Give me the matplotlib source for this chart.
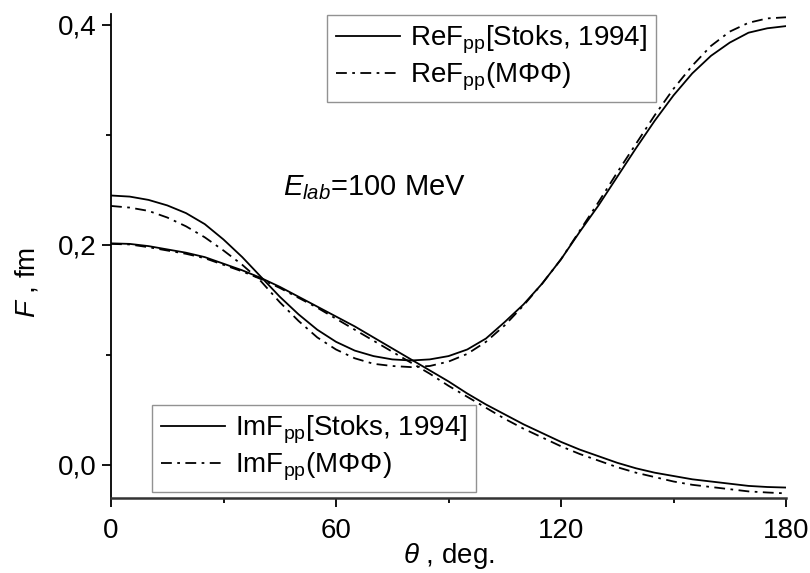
import matplotlib
matplotlib.use("Agg")
import matplotlib.pyplot as plt
from matplotlib.ticker import FixedLocator, FuncFormatter

plt.rcParams['font.family'] = ['Liberation Sans', 'DejaVu Sans']
plt.rcParams['mathtext.fontset'] = 'custom'
plt.rcParams['mathtext.rm'] = 'Liberation Sans'
plt.rcParams['mathtext.it'] = 'Liberation Sans:italic'
plt.rcParams['mathtext.bf'] = 'Liberation Sans:bold'

theta = [0, 5, 10, 15, 20, 25, 30, 35, 40, 45, 50, 55, 60, 65, 70, 75, 80, 85, 90,
         95, 100, 105, 110, 115, 120, 125, 130, 135, 140, 145, 150, 155, 160, 165,
         170, 175, 180]

re_stoks = [0.245, 0.244, 0.241, 0.236, 0.229, 0.219, 0.205, 0.189, 0.171, 0.153,
            0.137, 0.123, 0.112, 0.104, 0.099, 0.096, 0.095, 0.096, 0.099, 0.105,
            0.115, 0.130, 0.146, 0.165, 0.187, 0.212, 0.236, 0.262, 0.288, 0.313,
            0.336, 0.356, 0.372, 0.384, 0.393, 0.397, 0.399]

re_mff = [0.2355, 0.234, 0.231, 0.225, 0.217, 0.207, 0.195, 0.182, 0.167, 0.148,
          0.131, 0.116, 0.105, 0.097, 0.092, 0.090, 0.089, 0.090, 0.094, 0.101,
          0.112, 0.127, 0.145, 0.165, 0.187, 0.213, 0.239, 0.266, 0.292, 0.318,
          0.342, 0.363, 0.381, 0.394, 0.402, 0.406, 0.407]

im_stoks = [0.2015, 0.201, 0.199, 0.196, 0.193, 0.189, 0.183, 0.177, 0.170, 0.162,
            0.153, 0.144, 0.135, 0.126, 0.116, 0.106, 0.096, 0.086, 0.076, 0.065,
            0.055, 0.046, 0.037, 0.029, 0.021, 0.014, 0.008, 0.002, -0.003, -0.007,
            -0.010, -0.013, -0.015, -0.017, -0.019, -0.020, -0.0205]

im_mff = [0.201, 0.2005, 0.198, 0.195, 0.192, 0.188, 0.182, 0.176, 0.169, 0.161,
          0.152, 0.143, 0.133, 0.123, 0.113, 0.103, 0.093, 0.083, 0.072, 0.062,
          0.052, 0.042, 0.033, 0.025, 0.017, 0.010, 0.004, -0.002, -0.007, -0.011,
          -0.015, -0.018, -0.020, -0.022, -0.024, -0.025, -0.0258]

x_major = [0, 60, 120, 180]
x_minor = [30, 90, 150]
y_major = [0.0, 0.2, 0.4]
y_minor = [0.1, 0.3]

label_re_stoks = r'ReF$_{\mathrm{pp}}$[Stoks, 1994]'
label_re_mff = r'ReF$_{\mathrm{pp}}$(MΦΦ)'
label_im_stoks = r'ImF$_{\mathrm{pp}}$[Stoks, 1994]'
label_im_mff = r'ImF$_{\mathrm{pp}}$(MΦΦ)'

W, H = 810, 573
fig = plt.figure(figsize=(W / 100, H / 100), dpi=100)
ax = fig.add_axes([111 / W, 1 - 498 / H, (786 - 111) / W, (498 - 14) / H])

dashdot = (0, (6, 3, 1.5, 3))
l1, = ax.plot(theta, re_stoks, color='black', lw=1.3, ls='-')
l2, = ax.plot(theta, re_mff, color='black', lw=1.3, ls=dashdot)
l3, = ax.plot(theta, im_stoks, color='black', lw=1.3, ls='-')
l4, = ax.plot(theta, im_mff, color='black', lw=1.3, ls=dashdot)

ax.set_xlim(0, 180)
ax.set_ylim(-0.03, 0.41)
for s in ['top', 'right']:
    ax.spines[s].set_visible(False)
ax.spines['left'].set_linewidth(1.3)
ax.spines['bottom'].set_linewidth(1.8)
ax.spines['bottom'].set_color('#333333')

ax.xaxis.set_major_locator(FixedLocator(x_major))
ax.xaxis.set_minor_locator(FixedLocator(x_minor))
ax.yaxis.set_major_locator(FixedLocator(y_major))
ax.yaxis.set_minor_locator(FixedLocator(y_minor))
ax.yaxis.set_major_formatter(FuncFormatter(lambda v, p: f'{v:.1f}'.replace('.', ',')))
ax.tick_params(which='major', direction='out', length=6.5, width=1.3, labelsize=20)
ax.tick_params(which='minor', direction='out', length=3.8, width=1.3)
ax.tick_params(axis='x', which='major', pad=8)
ax.tick_params(axis='y', which='major', pad=4)

ax.set_xlabel(r'$\theta$ , deg.', fontsize=20)
ax.xaxis.set_label_coords(0.5, -0.088)
ax.set_ylabel(r'$F$ , fm', fontsize=20)
ax.yaxis.set_label_coords(-0.105, 0.445)

ax.text(283 / W, 1 - 195 / H, r'$E_{lab}$=100 MeV', transform=fig.transFigure,
        fontsize=21, ha='left', va='baseline')

leg_kw = dict(fontsize=20, frameon=True, fancybox=False, handlelength=2.3,
              handletextpad=0.35, borderpad=0.33, labelspacing=0.15,
              borderaxespad=0, loc='upper left')
leg1 = ax.legend([l1, l2], [label_re_stoks, label_re_mff],
                 bbox_to_anchor=(327 / W, 1 - 15 / H), bbox_transform=fig.transFigure,
                 **leg_kw)
leg1.get_frame().set_edgecolor('#777777')
leg1.get_frame().set_linewidth(1.0)
ax.add_artist(leg1)
leg2 = ax.legend([l3, l4], [label_im_stoks, label_im_mff],
                 bbox_to_anchor=(152 / W, 1 - 405 / H), bbox_transform=fig.transFigure,
                 **leg_kw)
leg2.get_frame().set_edgecolor('#777777')
leg2.get_frame().set_linewidth(1.0)

fig.savefig('out.png', dpi=100)
